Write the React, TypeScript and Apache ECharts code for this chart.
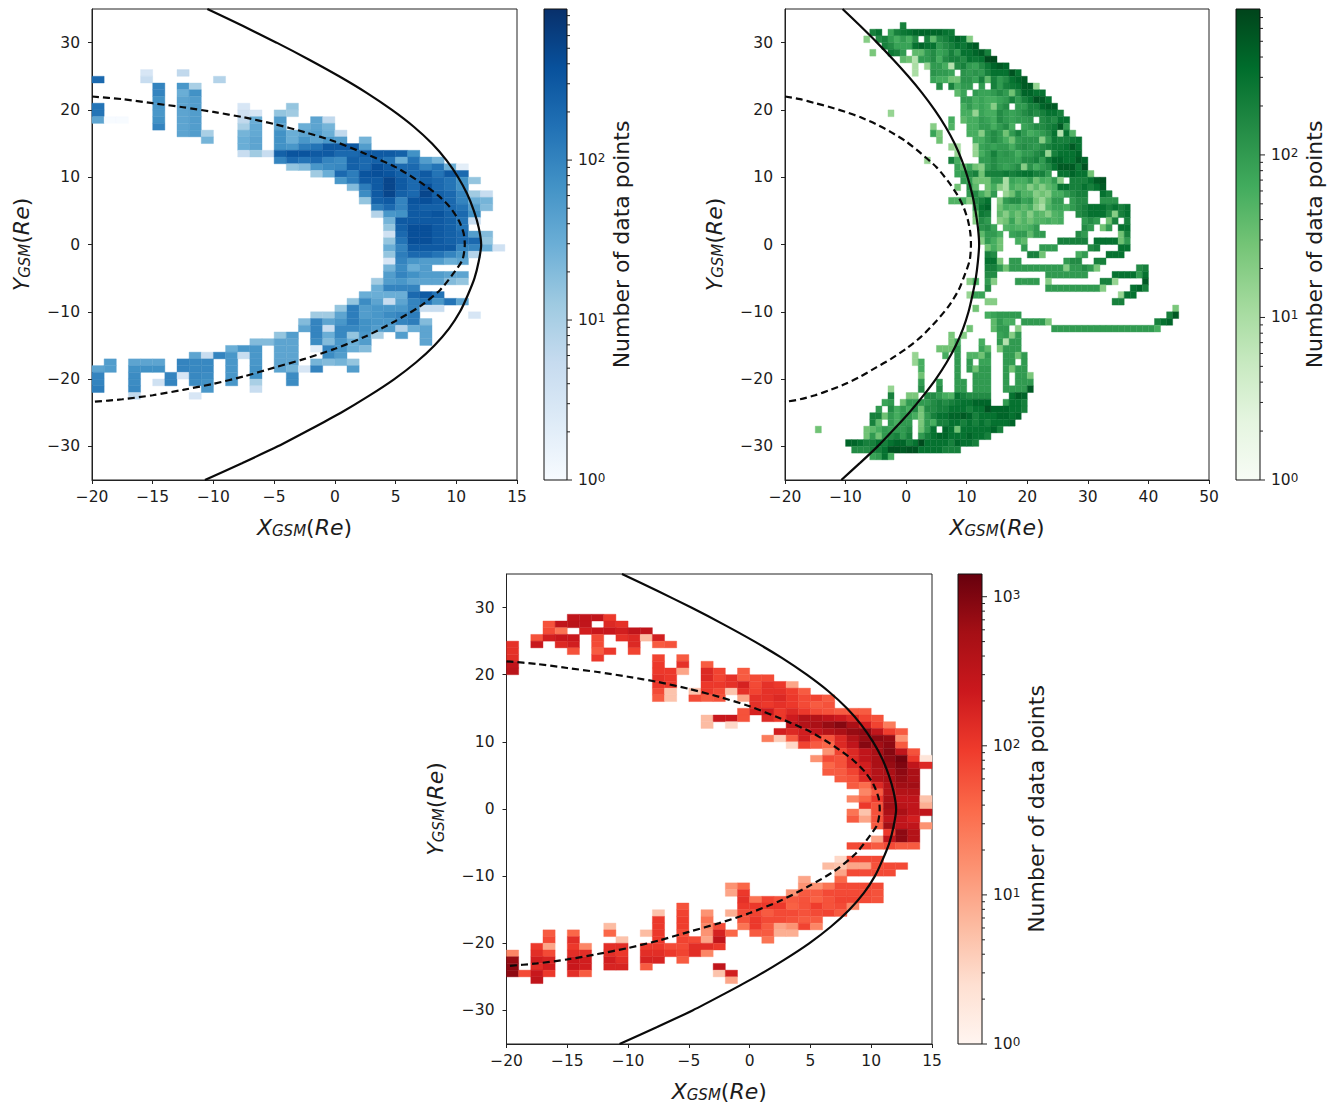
import React, { useEffect, useRef } from "react";
import * as echarts from "echarts";

const FONT = "DejaVu Sans";

const xTicksNarrow = [-20, -15, -10, -5, 0, 5, 10, 15];
const xTicksWide = [-20, -10, 0, 10, 20, 30, 40, 50];
const yTicks = [-30, -20, -10, 0, 10, 20, 30];
const colorbarPowers = [1, 10, 100, 1000];
const colorbarMinor = [2, 3, 4, 5, 6, 7, 8, 9, 20, 30, 40, 50, 60, 70, 80, 90, 200, 300, 400, 500, 600, 700, 800, 900];

const blueStops = ["#f7fbff", "#deebf7", "#c6dbef", "#9ecae1", "#6baed6", "#4292c6", "#2171b5", "#08519c", "#08306b"];
const greenStops = ["#f7fcf5", "#e5f5e0", "#c7e9c0", "#a1d99b", "#74c476", "#41ab5d", "#238b45", "#006d2c", "#00441b"];
const redStops = ["#fff5f0", "#fee0d2", "#fcbba1", "#fc9272", "#fb6a4a", "#ef3b2c", "#cb181d", "#a50f15", "#67000d"];

const blueMax = 880;
const greenMax = 790;
const redMax = 1420;

// Boundary curves: [x, y]
const solidCurve = [[-10.5, 35], [-7.6, 32.5], [-4.8, 30], [-2.15, 27.5], [0.35, 25], [2.65, 22.5], [4.7, 20], [6.5, 17.5], [8, 15], [9.2, 12.5], [10.15, 10], [10.9, 7.5], [11.45, 5], [11.85, 2.5], [12.05, 0], [11.85, -2.5], [11.5, -5], [10.95, -7.5], [10.3, -10], [9.4, -12.5], [8.2, -15], [6.7, -17.5], [4.9, -20], [2.8, -22.5], [0.5, -25], [-2.05, -27.5], [-4.7, -30], [-7.65, -32.5], [-10.7, -35]];
const dashedCurve = [[-20, 22], [-17.5, 21.6], [-15, 21], [-12.5, 20.4], [-10, 19.7], [-7.5, 18.9], [-5, 17.9], [-2.5, 16.7], [0, 15.3], [2.5, 13.5], [5, 11.5], [7, 9.3], [8.5, 7.3], [9.5, 5.5], [10.2, 3.6], [10.6, 1.7], [10.7, 0], [10.5, -2.3], [9.76, -4.3], [8.67, -6.75], [7, -9.2], [4.96, -11.4], [2.6, -13.6], [0, -15.5], [-2.5, -17], [-5, -18.3], [-7.5, -19.6], [-10, -20.7], [-12.5, -21.6], [-15, -22.4], [-17.5, -23], [-20, -23.4]];

// Blue counts, per column: [x, top y row, counts going downwards] (0 = empty bin)
const blueColumns: number[][] = [
  [-20, 24, 200, 0, 0, 0, 150, 150, 40], [-20, -19, 40, 100, 100, 120],
  [-19, 18, 1], [-19, -18, 50, 50], [-18, 18, 1],
  [-17, -18, 40, 70, 80, 80, 90, 6],
  [-16, 25, 3, 5], [-16, -18, 40, 70],
  [-15, 23, 100, 100, 70, 60, 60, 70, 100], [-15, -18, 40, 70, 0, 4],
  [-14, -20, 100, 100],
  [-13, 25, 6, 0, 60, 30, 40, 40, 40, 40, 40, 40], [-13, -18, 100, 100, 3],
  [-12, 23, 10, 70, 50, 50, 50, 50, 50, 50], [-12, -17, 40, 90, 90, 90, 80, 0, 3],
  [-11, 16, 10, 25], [-11, -17, 5, 90, 90, 80, 70, 60],
  [-10, 24, 8], [-10, -17, 100],
  [-9, -16, 30, 60, 60, 60, 60, 60],
  [-8, 20, 3, 4, 6, 10, 25, 30, 30, 5], [-8, -16, 60, 5],
  [-7, 19, 3, 30, 35, 35, 40, 40, 12], [-7, -15, 20, 60, 60, 60, 65, 70, 10, 5],
  [-6, 13, 5], [-6, -15, 20],
  [-5, 19, 15, 50, 40, 70, 70, 70, 250, 100], [-5, -14, 15, 40, 40, 40, 40, 40],
  [-4, 20, 15, 12, 0, 0, 30, 30, 60, 350, 200, 15], [-4, -14, 50, 40, 40, 40, 40, 25, 80, 80],
  [-3, 17, 30, 40, 60, 120, 350, 150, 20], [-3, -12, 20, 40, 0, 0, 0, 0, 0, 3],
  [-2, 18, 40, 40, 50, 40, 150, 300, 200, 60, 12], [-2, -11, 12, 100, 100, 100, 80, 2, 0, 25, 100],
  [-1, 18, 6, 25, 30, 60, 300, 300, 100, 80, 30], [-1, -11, 12, 40, 5, 30, 20, 100, 80, 20],
  [0, 16, 6, 50, 300, 200, 80, 90, 200, 60], [0, -10, 15, 40, 60, 90, 90, 60, 60, 50, 25],
  [1, 14, 300, 200, 250, 250, 120, 120, 20], [1, -9, 15, 120, 120, 120, 90, 15, 30, 30, 0, 15, 50],
  [2, 15, 25, 50, 300, 200, 200, 350, 300, 120, 80, 15], [2, -8, 30, 80, 50, 50, 70, 70, 60, 50, 20],
  [3, 13, 300, 250, 400, 400, 300, 300, 300, 250, 120, 8], [3, -6, 12, 30, 30, 40, 60, 60, 60, 50, 10],
  [4, 13, 300, 150, 300, 350, 500, 500, 500, 300, 200, 60, 25, 15, 4, 15, 30, 15, 3, 25, 50, 50, 100, 30, 5, 60, 80, 60, 50],
  [5, 13, 250, 30, 200, 250, 300, 300, 250, 100, 100, 70, 300, 250, 200, 150, 100, 120, 100, 80, 100, 60, 100, 30, 40, 60, 100, 100, 8, 50],
  [6, 13, 70, 150, 200, 200, 200, 200, 200, 350, 300, 300, 300, 400, 400, 400, 300, 200, 60, 30, 70, 40, 100, 200, 100, 100, 120, 120, 30],
  [7, 12, 50, 100, 300, 250, 400, 500, 400, 250, 300, 300, 400, 400, 400, 300, 200, 50, 50, 50, 40, 0, 300, 150, 5, 0, 20, 40, 40, 40],
  [8, 12, 25, 150, 150, 200, 200, 250, 300, 250, 350, 300, 300, 300, 300, 300, 150, 50, 0, 50, 40, 0, 150, 60, 5],
  [9, 11, 30, 300, 150, 150, 200, 200, 200, 250, 250, 250, 250, 250, 300, 100, 30, 0, 40, 20, 0, 0, 150],
  [10, 11, 2, 200, 70, 70, 100, 100, 150, 200, 150, 150, 200, 200, 100, 60, 40, 0, 40, 15, 0, 0, 40],
  [11, 9, 15, 0, 12, 30, 50, 70, 5, 0, 50, 200, 100, 8, 0, 0, 0, 0, 0, 0, 0, 0, 3],
  [12, 7, 5, 25, 20, 0, 0, 0, 20, 15, 30],
  [13, -1, 4],
];

// Green counts, per row: [y, first x, counts going rightwards] (0 = empty bin)
const greenRows: number[][] = [
  [32, -1, 200],
  [31, -6, 200, 300, 0, 80, 200, 250, 300, 400, 400, 400, 400, 400, 300, 250],
  [30, -7, 20, 0, 150, 200, 100, 60, 100, 60, 150, 0, 200, 40, 150, 200, 300, 400, 300, 20],
  [29, -4, 200, 150, 80, 80, 80, 300, 400, 300, 300, 100, 150, 200, 300, 250, 400, 500],
  [28, -6, 25, 0, 0, 250, 200, 100, 0, 40, 40, 100, 150, 80, 100, 200, 100, 300, 300, 400, 500, 200],
  [27, -1, 40, 30, 8, 100, 100, 150, 60, 150, 200, 200, 150, 300, 250, 300, 700, 700],
  [26, 1, 10, 0, 15, 100, 100, 60, 8, 150, 200, 100, 80, 150, 250, 400, 500, 400],
  [25, 1, 10, 0, 0, 120, 100, 100, 80, 0, 120, 100, 120, 100, 200, 300, 300, 300, 600, 300],
  [24, 4, 80, 60, 60, 30, 30, 120, 120, 80, 200, 40, 200, 100, 150, 300, 400, 500],
  [23, 5, 150, 0, 200, 60, 100, 100, 0, 100, 0, 200, 100, 200, 250, 300, 500, 500, 15],
  [22, 8, 40, 80, 0, 100, 80, 80, 100, 150, 100, 30, 150, 400, 400, 300, 300],
  [21, 9, 100, 100, 60, 80, 60, 60, 80, 100, 200, 100, 200, 300, 600, 500, 300],
  [20, 9, 60, 100, 60, 80, 60, 20, 100, 150, 0, 100, 100, 200, 200, 400, 500, 500],
  [19, -3, 15], [19, 9, 60, 60, 15, 80, 60, 60, 150, 100, 80, 100, 150, 200, 150, 200, 300, 300, 200],
  [18, 7, 60, 0, 40, 60, 60, 100, 80, 60, 150, 100, 80, 100, 100, 120, 0, 150, 200, 150, 300, 300],
  [17, 4, 20, 0, 0, 50, 0, 0, 60, 60, 100, 100, 60, 100, 150, 60, 0, 80, 100, 150, 150, 200, 250, 500, 100],
  [16, 4, 80, 25, 0, 0, 0, 0, 60, 60, 20, 100, 150, 100, 30, 100, 200, 100, 60, 80, 100, 150, 300, 8, 300, 50],
  [15, 5, 30, 0, 0, 0, 0, 0, 60, 60, 100, 150, 100, 60, 30, 100, 120, 120, 120, 20, 100, 250, 200, 200, 250, 300],
  [14, 7, 15, 10, 0, 0, 15, 80, 100, 80, 100, 100, 60, 120, 150, 120, 100, 150, 200, 250, 250, 300, 500, 300],
  [13, 8, 15, 0, 0, 15, 60, 100, 200, 100, 120, 100, 60, 100, 100, 150, 200, 15, 200, 300, 300, 300, 400],
  [12, 3, 15], [12, 7, 200, 60, 0, 0, 0, 100, 100, 150, 100, 100, 100, 80, 150, 150, 200, 100, 250, 400, 400, 300, 300, 500, 400],
  [11, 8, 80, 40, 80, 30, 20, 100, 150, 100, 80, 100, 150, 20, 120, 60, 100, 150, 300, 500, 500, 500, 250, 600],
  [10, 8, 80, 100, 150, 200, 30, 200, 200, 200, 250, 200, 250, 300, 300, 200, 200, 100, 0, 300, 300, 400, 300, 300, 30],
  [9, 9, 100, 100, 30, 30, 30, 100, 100, 10, 80, 60, 60, 100, 30, 60, 50, 100, 20, 0, 200, 200, 200, 300, 500, 600],
  [8, 8, 30, 0, 150, 40, 0, 30, 60, 20, 10, 60, 40, 50, 20, 40, 20, 40, 60, 300, 300, 200, 200, 300, 200, 300, 500],
  [7, 10, 100, 150, 60, 30, 100, 0, 15, 30, 100, 50, 50, 20, 30, 20, 60, 60, 100, 150, 200, 200, 0, 0, 300, 200],
  [6, 7, 50, 50, 60, 20, 150, 200, 300, 0, 20, 100, 150, 150, 80, 100, 30, 15, 40, 100, 100, 0, 100, 150, 150, 0, 0, 120, 120, 120],
  [5, 11, 100, 300, 400, 0, 30, 60, 50, 60, 40, 60, 20, 10, 50, 80, 80, 60, 100, 150, 200, 300, 300, 300, 200, 300, 200, 300],
  [4, 11, 30, 250, 200, 0, 40, 20, 50, 30, 50, 20, 50, 40, 20, 50, 60, 0, 0, 150, 200, 300, 300, 300, 150, 20, 200, 300],
  [3, 11, 20, 150, 100, 0, 20, 30, 80, 30, 50, 30, 50, 50, 60, 50, 60, 0, 0, 0, 100, 150, 100, 0, 30, 200, 0, 200],
  [2, 12, 120, 150, 80, 0, 50, 60, 50, 50, 60, 100, 0, 0, 0, 0, 0, 0, 0, 150, 100, 0, 30, 100, 0, 300, 300],
  [1, 12, 40, 100, 100, 60, 0, 80, 100, 100, 40, 100, 100], [1, 28, 150, 100], [1, 35, 30, 200],
  [0, 12, 20, 100, 60, 30, 0, 0, 60, 40], [0, 25, 200, 200, 200, 200, 200, 0, 300, 300, 300, 300, 30, 100],
  [-1, 13, 30, 60, 30, 0, 0, 0, 100, 0, 0, 100, 100, 100], [-1, 30, 150, 200], [-1, 35, 300, 300],
  [-2, 13, 200, 150], [-2, 20, 200, 200, 30], [-2, 28, 60, 100], [-2, 33, 300, 300, 300],
  [-3, 13, 300, 300, 25, 0, 100, 100], [-3, 26, 100, 150, 150], [-3, 31, 200, 200],
  [-4, 13, 200, 200, 100, 30, 100, 100, 100, 100, 100, 100, 100, 100, 100, 20, 100, 100, 150, 100, 25], [-4, 38, 150, 200],
  [-5, 13, 150, 150], [-5, 23, 100, 100, 100, 100, 100, 100, 100], [-5, 34, 300, 300, 300, 300, 100, 300],
  [-6, 10, 20, 60, 0, 100, 20], [-6, 18, 100, 100, 100, 100, 0, 20], [-6, 32, 200, 200, 15], [-6, 39, 500],
  [-7, 13, 150], [-7, 23, 100, 100, 100, 100, 100, 100, 100, 100, 100, 20], [-7, 37, 300, 400, 200],
  [-8, 10, 15, 80, 80], [-8, 35, 15, 300, 300],
  [-9, 13, 20, 20], [-9, 34, 200, 200],
  [-10, 11, 30], [-10, 44, 25],
  [-11, 13, 60, 80, 100, 100, 100, 100], [-11, 43, 200, 500],
  [-12, 14, 40, 100, 60, 60, 0, 100, 100, 100, 100, 25], [-12, 41, 200, 300, 400],
  [-13, 10, 30], [-13, 14, 40, 100, 100, 0, 20], [-13, 24, 100, 100, 100, 100, 100, 100, 100, 100, 100, 100, 100, 100, 100, 100, 100, 100, 100, 60],
  [-14, 7, 25, 0, 20], [-14, 15, 80, 100, 20, 100],
  [-15, 7, 25, 60], [-15, 12, 60], [-15, 15, 100, 8, 100, 100],
  [-16, 5, 30, 30, 30, 100], [-16, 12, 80, 40], [-16, 15, 25, 100, 100, 100],
  [-17, 1, 15], [-17, 6, 60, 0, 100, 0, 50, 50, 30, 100], [-17, 16, 100, 100, 30, 100],
  [-18, 1, 15, 60], [-18, 8, 100, 0, 100, 0, 80, 80], [-18, 16, 100, 100, 0, 100],
  [-19, 2, 60], [-19, 8, 100, 0, 100, 30, 100, 100], [-19, 16, 100, 30, 100, 100],
  [-20, 2, 30], [-20, 8, 100, 0, 0, 100, 100, 100], [-20, 16, 100, 0, 100, 100, 25],
  [-21, 2, 100], [-21, 5, 100, 0, 0, 100, 100, 0, 100, 100, 100], [-21, 16, 100, 0, 100, 100, 100],
  [-22, -3, 15], [-22, 2, 150, 0, 0, 150, 0, 0, 100, 100, 0, 100, 100, 100, 0, 0, 100, 100, 100, 100, 500],
  [-23, -3, 200], [-23, 0, 25, 25, 0, 150, 150, 100, 60, 50, 300, 200, 150, 150, 150, 150], [-23, 17, 300, 500, 400],
  [-24, -4, 80, 100, 0, 30, 100, 100, 100, 100, 150, 200, 150, 200, 250, 300, 300, 400, 400, 400, 0, 0, 100, 300, 300, 200],
  [-25, -5, 100, 0, 150, 60, 100, 60, 150, 30, 150, 150, 200, 200, 300, 300, 300, 200, 300, 300, 600, 400, 400, 400, 300, 300, 200],
  [-26, -6, 200, 200, 30, 100, 60, 100, 100, 60, 25, 100, 200, 300, 300, 400, 400, 500, 400, 200, 300, 300, 300, 400, 400, 300, 400],
  [-27, -6, 200, 40, 0, 100, 60, 100, 100, 0, 25, 100, 60, 200, 200, 300, 300, 200, 300, 200, 300, 200, 300, 300, 300, 400],
  [-28, -15, 30], [-28, -7, 30, 40, 60, 100, 80, 100, 100, 150, 0, 30, 100, 300, 0, 400, 300, 30, 300, 300, 300, 300, 300, 400, 200],
  [-29, -7, 30, 100, 30, 100, 150, 200, 100, 200, 0, 100, 200, 300, 400, 400, 300, 300, 300, 400, 300, 300, 200],
  [-30, -10, 400, 400, 300, 200, 200, 300, 200, 300, 400, 400, 200, 300, 700, 300, 300, 300, 300, 200, 400, 300, 300, 200],
  [-31, -9, 150, 150, 150, 200, 200, 300, 600, 600, 500, 600, 600, 300, 300, 300, 300, 200, 200, 200],
  [-32, -6, 80, 100, 300, 60],
];

// Red counts, per row: [y, first x, counts going rightwards] (0 = empty bin)
const redRows: number[][] = [
  [28, -15, 300, 300, 300, 100],
  [27, -17, 60, 300, 350, 300, 0, 150, 120],
  [26, -17, 70, 30, 0, 200, 250, 250, 200, 300, 300],
  [25, -18, 60, 200, 250, 250, 0, 70, 0, 120, 150, 6, 200],
  [24, -20, 120], [24, -18, 250, 0, 150, 200, 0, 70, 0, 0, 150, 0, 50, 60],
  [23, -20, 120], [23, -15, 60, 0, 50, 100, 0, 80],
  [22, -20, 130], [22, -13, 100], [22, -8, 80, 0, 50],
  [21, -20, 300], [21, -8, 100, 0, 120, 0, 50],
  [20, -20, 350], [20, -8, 100, 100, 10, 0, 150, 80, 0, 50],
  [19, -8, 120, 100, 0, 0, 150, 80, 120, 50, 70, 70],
  [18, -8, 100, 100, 0, 0, 100, 100, 120, 180, 70, 120, 100, 10],
  [17, -8, 70, 5, 0, 5, 100, 70, 5, 120, 80, 120, 120, 90, 50],
  [16, -8, 50, 5, 0, 70, 50, 60, 0, 10, 120, 120, 150, 100, 70, 80, 50],
  [15, 0, 120, 100, 120, 100, 70, 50, 60],
  [14, -1, 60, 180, 220, 100, 150, 100, 70, 60, 50, 50, 50],
  [13, -4, 6, 250, 250, 60, 0, 150, 100, 220, 400, 400, 300, 220, 150, 80, 60],
  [12, -4, 6, 0, 3], [12, 3, 300, 400, 500, 700, 900, 500, 200, 80, 25],
  [11, 2, 200, 150, 200, 300, 400, 500, 700, 800, 300, 90, 50],
  [10, 1, 25, 4, 50, 200, 80, 60, 150, 400, 700, 800, 700, 15],
  [9, 3, 3, 80, 50, 40, 150, 300, 900, 600, 800, 50],
  [8, 6, 15, 80, 150, 300, 500, 900, 300, 60],
  [7, 5, 15, 70, 60, 150, 300, 500, 800, 1200, 100, 2],
  [6, 6, 40, 60, 150, 200, 500, 700, 1000, 300, 150],
  [5, 6, 50, 50, 80, 200, 400, 500, 800, 500],
  [4, 7, 50, 60, 150, 400, 500, 700, 500],
  [3, 8, 50, 35, 150, 400, 600, 600],
  [2, 9, 20, 50, 400, 400, 400],
  [1, 8, 20, 40, 100, 500, 300, 300, 5],
  [0, 9, 100, 60, 600, 350, 300, 8],
  [-1, 8, 30, 5, 60, 500, 500, 300, 300],
  [-2, 8, 50, 10, 60, 300, 300, 200],
  [-3, 10, 50, 600, 300, 300, 15],
  [-4, 11, 100, 800, 400],
  [-5, 10, 10, 300, 800, 400],
  [-6, 8, 70, 70, 50, 70, 50, 50],
  [-8, 7, 3, 70, 70, 70],
  [-9, 6, 6, 5, 10, 10, 60, 70, 70],
  [-10, 7, 10, 70, 70, 70, 70],
  [-11, 4, 10, 0, 0, 40],
  [-12, -2, 15, 40], [-12, 4, 15, 15, 30, 70, 70, 70, 70],
  [-13, -2, 10, 100], [-13, 3, 15, 50, 50, 70, 70, 70, 70, 60],
  [-14, -1, 120, 30, 80, 60, 50, 60, 45, 60, 80, 80, 70, 60],
  [-15, -6, 60], [-15, -1, 100, 100, 100, 100, 45, 60, 90, 60, 70, 20],
  [-16, -8, 5, 0, 80, 0, 15, 0, 8, 70, 80, 50, 70, 70, 60, 70, 80, 50],
  [-17, -8, 100, 0, 90, 0, 30], [-17, -1, 60, 100, 70, 70, 60, 50, 50],
  [-18, -12, 6], [-18, -8, 100, 0, 90, 0, 20, 70, 0, 30, 100, 50, 10, 15, 80, 20],
  [-19, -17, 50, 0, 40], [-19, -12, 40, 0, 0, 6, 100, 0, 70, 0, 15, 180, 40, 0, 50, 50, 8, 8],
  [-20, -17, 70, 0, 130], [-20, -11, 5, 0, 0, 100, 0, 80, 70, 10, 300, 0, 0, 0, 30],
  [-21, -18, 100, 10, 0, 100, 20], [-21, -12, 130, 130, 0, 100, 100, 70, 70, 130, 130, 100],
  [-22, -20, 20, 0, 130, 70, 0, 130, 130, 0, 130, 100, 0, 130, 130, 100, 80, 130, 20],
  [-23, -20, 700, 0, 200, 170, 0, 250, 200, 0, 200, 130, 0, 170, 170, 0, 50],
  [-24, -20, 800, 0, 130, 200, 0, 250, 200, 0, 170, 170, 0, 50], [-24, -3, 300],
  [-25, -20, 800, 70, 250, 100, 0, 130, 50], [-25, -3, 5, 200],
  [-26, -18, 300], [-26, -2, 10],
];

const hexToRgb = (h: string) => [1, 3, 5].map((i) => parseInt(h.slice(i, i + 2), 16));

function colorFor(stops: string[], t: number) {
  const u = Math.min(0.9999, Math.max(0, t)) * (stops.length - 1);
  const i = Math.floor(u);
  const a = hexToRgb(stops[i]);
  const b = hexToRgb(stops[i + 1]);
  const c = a.map((v, k) => Math.round(v + (b[k] - v) * (u - i)));
  return `rgb(${c.join(",")})`;
}

const fromColumns = (cols: number[][]) =>
  cols.flatMap(([x, top, ...vals]) => vals.map((v, k) => [x, top - k, v]).filter((d) => d[2] > 0));
const fromRows = (rows: number[][]) =>
  rows.flatMap(([y, first, ...vals]) => vals.map((v, k) => [first + k, y, v]).filter((d) => d[2] > 0));

const mainText = { color: "#1c1c1c", fontFamily: FONT, fontSize: 15.5 };
const minus = (v: number) => String(v).replace("-", "\u2212");

const mathRich = {
  i: { fontFamily: FONT, fontSize: 22, fontStyle: "italic" as const, color: "#1c1c1c" },
  s: { fontFamily: FONT, fontSize: 15, fontStyle: "italic" as const, color: "#1c1c1c", verticalAlign: "bottom" as const, padding: [7, 0, 0, 0] },
  p: { fontFamily: FONT, fontSize: 22, color: "#1c1c1c" },
};

interface Panel {
  rect: [number, number, number, number];
  bar: [number, number];
  xMax: number;
  xTicks: number[];
  cells: number[][];
  stops: string[];
  vMax: number;
}

const panels: Panel[] = [
  { rect: [92, 9, 517, 480], bar: [544, 567], xMax: 15, xTicks: xTicksNarrow, cells: fromColumns(blueColumns), stops: blueStops, vMax: blueMax },
  { rect: [785, 9, 1209, 480], bar: [1236, 1260], xMax: 50, xTicks: xTicksWide, cells: fromRows(greenRows), stops: greenStops, vMax: greenMax },
  { rect: [506.5, 574, 932, 1044], bar: [958, 982], xMax: 15, xTicks: xTicksNarrow, cells: fromRows(redRows), stops: redStops, vMax: redMax },
];

function buildOption() {
  const grid: any[] = [];
  const xAxis: any[] = [];
  const yAxis: any[] = [];
  const series: any[] = [];

  panels.forEach((p, n) => {
    const [l, t, r, b] = p.rect;
    grid.push({ left: l, top: t, width: r - l, height: b - t, show: true, borderColor: "#222", borderWidth: 1, backgroundColor: "#fff" });
    grid.push({ left: p.bar[0], top: t, width: p.bar[1] - p.bar[0], height: b - t, show: true, borderColor: "#111", borderWidth: 1, z: 5 });
    const mainIdx = n * 2;
    const barIdx = n * 2 + 1;

    xAxis.push({
      type: "value", gridIndex: mainIdx, min: -20, max: p.xMax, interval: p.xMax === 50 ? 10 : 5,
      splitLine: { show: false },
      axisLine: { show: true, onZero: false, lineStyle: { color: "#222" } },
      axisTick: { show: true, length: 4, lineStyle: { color: "#222" }, customValues: p.xTicks },
      axisLabel: { ...mainText, margin: 9, formatter: minus, customValues: p.xTicks, showMinLabel: true, showMaxLabel: true },
      name: "{i|X}{s|GSM}{p|(}{i|Re}{p|)}", nameLocation: "middle", nameGap: 36,
      nameTextStyle: { rich: mathRich },
    });
    yAxis.push({
      type: "value", gridIndex: mainIdx, min: -35, max: 35,
      splitLine: { show: false },
      axisLine: { show: true, onZero: false, lineStyle: { color: "#222" } },
      axisTick: { show: true, length: 4, lineStyle: { color: "#222" }, customValues: yTicks },
      axisLabel: { ...mainText, margin: 12, formatter: minus, customValues: yTicks },
      name: "{i|Y}{s|GSM}{p|(}{i|Re}{p|)}", nameLocation: "middle", nameGap: 60, nameRotate: 90,
      nameTextStyle: { rich: mathRich },
    });

    xAxis.push({ type: "value", gridIndex: barIdx, min: 0, max: 1, show: false });
    yAxis.push({
      type: "log", logBase: 10, gridIndex: barIdx, min: 1, max: p.vMax, position: "right",
      splitLine: { show: false }, minorTick: { show: false }, minorSplitLine: { show: false },
      axisLine: { show: false }, axisTick: { show: false },
      axisLabel: {
        margin: 11,
        formatter: (v: number) => {
          const e = Math.log10(v);
          return Math.abs(e - Math.round(e)) < 1e-6 ? `{b|10}{e|${Math.round(e)}}` : "";
        },
        rich: {
          b: { fontFamily: FONT, fontSize: 15.5, color: "#1c1c1c" },
          e: { fontFamily: FONT, fontSize: 12, color: "#1c1c1c", verticalAlign: "top" },
        },
      },
      name: "Number of data points", nameLocation: "middle", nameRotate: 90, nameGap: 43,
      nameTextStyle: { fontFamily: FONT, fontSize: 22, color: "#1c1c1c" },
    });

    const logMax = Math.log10(p.vMax);
    series.push({
      type: "custom", xAxisIndex: mainIdx, yAxisIndex: mainIdx, silent: true, z: 2,
      data: p.cells,
      renderItem: (_: any, api: any) => {
        const x = api.value(0);
        const y = api.value(1);
        const a = api.coord([x, y + 1]);
        const c = api.coord([x + 1, y]);
        const fill = colorFor(p.stops, Math.log10(api.value(2)) / logMax);
        return {
          type: "rect",
          shape: { x: a[0], y: a[1], width: c[0] - a[0], height: c[1] - a[1] },
          style: { fill, stroke: fill, lineWidth: 0.4 },
        };
      },
    });
    series.push({
      type: "line", xAxisIndex: mainIdx, yAxisIndex: mainIdx, data: solidCurve, smooth: 0.25, showSymbol: false, symbol: "none",
      silent: true, z: 4, lineStyle: { color: "#0a0a0a", width: 2.2 },
    });
    series.push({
      type: "line", xAxisIndex: mainIdx, yAxisIndex: mainIdx, data: dashedCurve, smooth: 0.25, showSymbol: false, symbol: "none",
      silent: true, z: 4, lineStyle: { color: "#0a0a0a", width: 2.2, type: [7, 4] },
    });
    series.push({
      type: "custom", xAxisIndex: barIdx, yAxisIndex: barIdx, silent: true, z: 2,
      data: [[0, p.vMax]],
      renderItem: (_: any, api: any) => {
        const a = api.coord([0, p.vMax]);
        const c = api.coord([1, 1]);
        return {
          type: "rect",
          shape: { x: a[0], y: a[1], width: c[0] - a[0], height: c[1] - a[1] },
          style: {
            fill: {
              type: "linear", x: 0, y: 1, x2: 0, y2: 0,
              colorStops: p.stops.map((color, i) => ({ offset: i / (p.stops.length - 1), color })),
            },
          },
        };
      },
    });
    const tickData = [
      ...colorbarPowers.filter((v) => v <= p.vMax).map((v) => [1, v, 5]),
      ...colorbarMinor.filter((v) => v <= p.vMax).map((v) => [1, v, 3]),
    ];
    series.push({
      type: "custom", xAxisIndex: barIdx, yAxisIndex: barIdx, silent: true, z: 6,
      data: tickData,
      renderItem: (_: any, api: any) => {
        const a = api.coord([1, api.value(1)]);
        return {
          type: "line",
          shape: { x1: a[0], y1: a[1], x2: a[0] + api.value(2), y2: a[1] },
          style: { stroke: "#222", lineWidth: 1 },
        };
      },
    });
  });

  return { animation: false, backgroundColor: "#fff", grid, xAxis, yAxis, series };
}

export default function App() {
  const ref = useRef<HTMLDivElement>(null);
  useEffect(() => {
    const chart = echarts.init(ref.current!, undefined, { renderer: "svg" });
    chart.setOption(buildOption());
    return () => chart.dispose();
  }, []);
  return <div ref={ref} style={{ position: "absolute", left: 0, top: 0, width: 1338, height: 1104 }} />;
}
